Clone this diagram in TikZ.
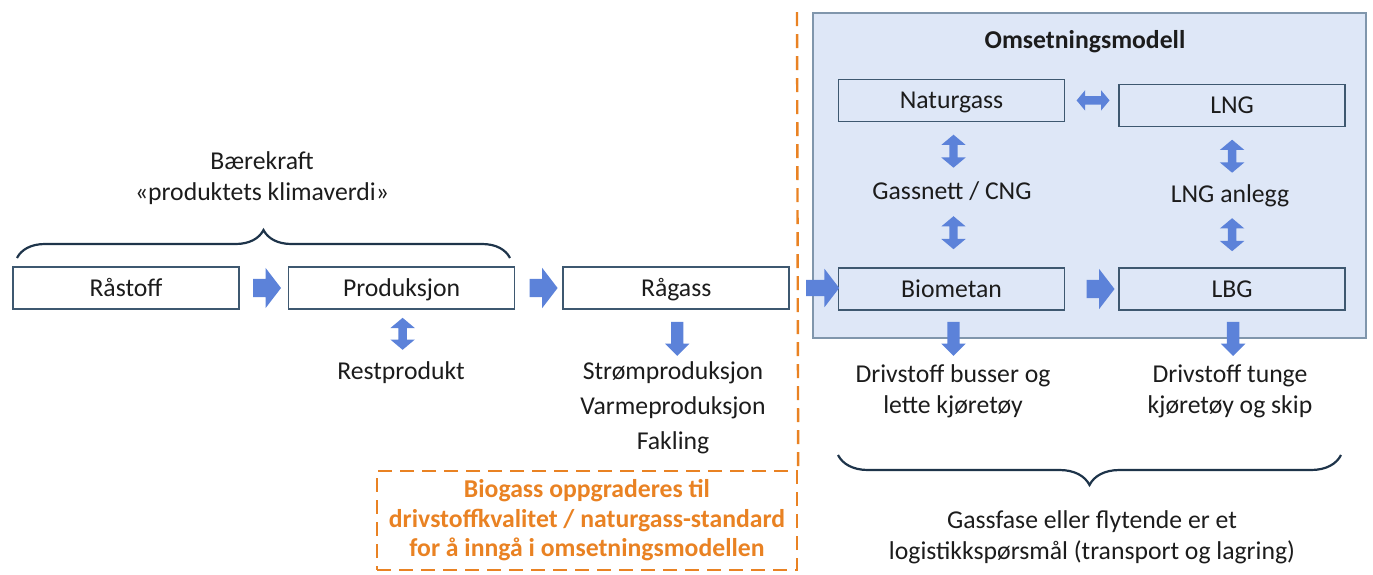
\documentclass[tikz,border=0pt]{standalone}
\usepackage{fontspec}
\setmainfont{Carlito}
\usetikzlibrary{positioning,shapes.arrows,decorations.pathreplacing,calc}
\definecolor{boxline}{RGB}{62,88,112}
\definecolor{modelline}{RGB}{128,150,172}
\definecolor{modelfill}{RGB}{222,231,247}
\definecolor{pilblue}{RGB}{92,130,217}
\definecolor{bracecol}{RGB}{30,52,74}
\definecolor{oransje}{RGB}{233,130,35}
\definecolor{tekst}{RGB}{28,28,28}
\tikzset{box/.style={draw=boxline,line width=1.6pt,fill=white,minimum width=226pt,
minimum height=42pt,inner sep=0pt,text height=20pt,text depth=4pt},
hpil/.style={single arrow,fill=pilblue,inner xsep=0pt,inner ysep=9pt,minimum height=28pt,
single arrow head extend=11pt,single arrow tip angle=105},
npil/.style={single arrow,shape border rotate=270,fill=pilblue,inner sep=6pt,
minimum height=34pt,single arrow head extend=6pt},
dpil/.style={double arrow,fill=pilblue,inner sep=4pt,minimum height=33pt,
double arrow head extend=8pt,double arrow tip angle=100},
etikett/.style={inner sep=0pt,align=center},
klamme/.style={decorate,draw=bracecol,line width=2.2pt},
orangedash/.style={draw=oransje,line width=2.4pt,dash pattern=on 14pt off 8pt}}

\begin{document}
\begin{tikzpicture}[x=1pt,y=-1pt,
  every node/.style={font=\fontsize{25.7}{31}\selectfont,text=tekst}]
\useasboundingbox (0,0) rectangle (1373,574);

% omsetningsmodell
\node[draw=modelline,fill=modelfill,line width=1.5pt,minimum width=553pt,
  minimum height=325pt] (modell) at (1089.5,175.5) {};
\node[font=\fontsize{25.7}{31}\selectfont\bfseries] (tittel) at (1085,42) {Omsetningsmodell};

\node[box] (raastoff) at (126,288) {Råstoff};
\node[box] (prod) [right=48pt of raastoff] {Produksjon};
\node[box] (raagass) [right=47pt of prod] {Rågass};
\node[box,fill=modelfill] (biometan) at (951.5,289) {Biometan};
\node[box,fill=modelfill] (lbg) [right=53pt of biometan] {LBG};
\node[box,fill=modelfill] (naturgass) [above=145pt of biometan] {Naturgass};
\node[box,fill=modelfill] (lng) [above=140pt of lbg] {LNG};

% piler
\node[hpil] (p1) [right=13pt of raastoff] {};
\node[hpil] (p2) [right=14pt of prod] {};
\node[hpil,minimum height=33pt,inner ysep=8pt] (p3) [right=16pt of raagass] {};
\node[hpil] (p4) [right=21pt of biometan] {};
\node[dpil,double arrow head extend=6pt] (d0) [right=11pt of naturgass] {};
\node[dpil,shape border rotate=90,minimum height=32pt] (d1) at ($(prod.south)+(1,24)$) {};
\node[npil] (n0) at ($(raagass.south)+(1,26)$) {};
\node[dpil,shape border rotate=90] (d2) at ($(naturgass.south)+(2,29)$) {};
\node[dpil,shape border rotate=90] (d3) at ($(biometan.north)+(2,-34.5)$) {};
\node[dpil,shape border rotate=90] (d4) at ($(lng.south)+(0,29)$) {};
\node[dpil,shape border rotate=90] (d5) at ($(lbg.north)+(0,-32.5)$) {};
\node[npil] (n1) at ($(biometan.south)+(2,25)$) {};
\node[npil] (n2) at ($(lbg.south)+(1,25)$) {};

% tekster
\node[etikett] (baer) at (262,178) {Bærekraft\\«produktets klimaverdi»};
\node[etikett] (rest) at (401,373) {Restprodukt};
\node[etikett,font=\fontsize{25.7}{35}\selectfont] (bruk) at (673,408)
  {Strømproduksjon\\Varmeproduksjon\\Fakling};
\node[etikett] (gassnett) at (952,191) {Gassnett / CNG};
\node[etikett] (lnganl) at (1230,196) {LNG anlegg};
\node[etikett] (buss) at (953,391) {Drivstoff busser og\\lette kjøretøy};
\node[etikett] (tung) at (1230,391) {Drivstoff tunge\\kjøretøy og skip};
\node[etikett] (logistikk) at (1092,537)
  {Gassfase eller flytende er et\\logistikkspørsmål (transport og lagring)};

% klammer
\coordinate (k1a) at (17,258);
\coordinate (k1b) at (510,258);
\draw[klamme,decoration={brace,amplitude=28pt}] (k1a) -- (k1b);
\coordinate (k2a) at (1341,455);
\coordinate (k2b) at (838,455);
\draw[klamme,decoration={brace,amplitude=30pt}] (k2a) -- (k2b);

% oppgradering
\node[orangedash,align=center,minimum width=420pt,minimum height=99pt,inner sep=0pt,
  text=oransje,font=\fontsize{25.7}{29.5}\selectfont\bfseries] (oppgrad) at (587,520.5)
  {Biogass oppgraderes til\\drivstoffkvalitet / naturgass-standard\\for å inngå i omsetningsmodellen};
\coordinate (skille) at (797,12);
\draw[orangedash] (skille) -- (oppgrad.north east);
\end{tikzpicture}
\end{document}
